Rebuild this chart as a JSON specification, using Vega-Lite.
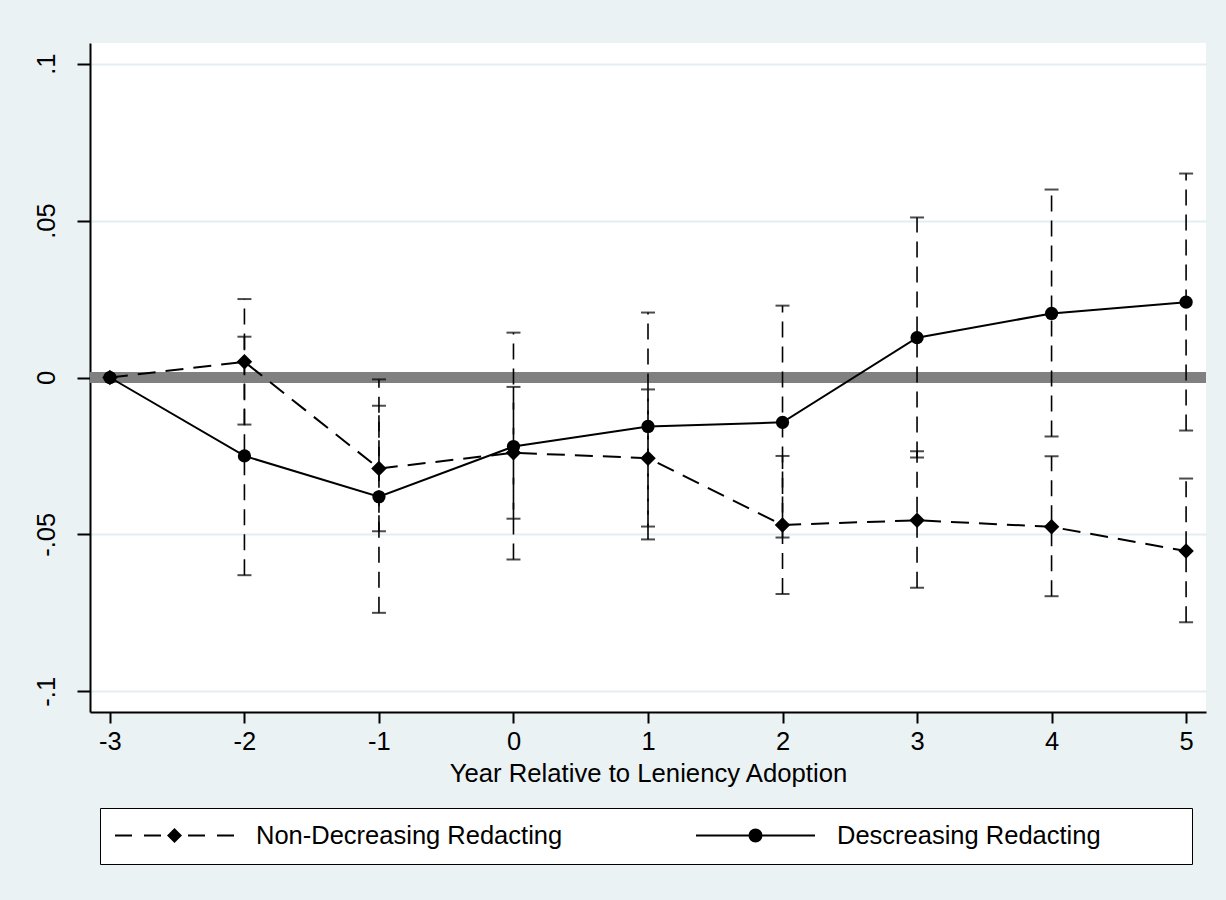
{
  "$schema": "https://vega.github.io/schema/vega-lite/v6.json",
  "width": 1116,
  "height": 669,
  "autosize": {"type": "none"},
  "padding": {"left": 90, "top": 43, "right": 20, "bottom": 188},
  "background": "#EAF2F3",
  "config": {
    "font": "Liberation Sans",
    "view": {"fill": "white", "stroke": null}
  },
  "data": {
    "values": [
      {"year": -3, "series": "Non-Decreasing Redacting", "coef": 0, "lo": null, "hi": null},
      {"year": -2, "series": "Non-Decreasing Redacting", "coef": 0.005, "lo": -0.015, "hi": 0.025},
      {"year": -1, "series": "Non-Decreasing Redacting", "coef": -0.029, "lo": -0.049, "hi": -0.009},
      {"year": 0, "series": "Non-Decreasing Redacting", "coef": -0.024, "lo": -0.045, "hi": -0.003},
      {"year": 1, "series": "Non-Decreasing Redacting", "coef": -0.0257, "lo": -0.0475, "hi": -0.0038},
      {"year": 2, "series": "Non-Decreasing Redacting", "coef": -0.047, "lo": -0.069, "hi": -0.025},
      {"year": 3, "series": "Non-Decreasing Redacting", "coef": -0.0455, "lo": -0.067, "hi": -0.0235},
      {"year": 4, "series": "Non-Decreasing Redacting", "coef": -0.0476, "lo": -0.0697, "hi": -0.0251},
      {"year": 5, "series": "Non-Decreasing Redacting", "coef": -0.0553, "lo": -0.078, "hi": -0.0322},
      {"year": -3, "series": "Descreasing Redacting", "coef": 0, "lo": null, "hi": null},
      {"year": -2, "series": "Descreasing Redacting", "coef": -0.025, "lo": -0.063, "hi": 0.013},
      {"year": -1, "series": "Descreasing Redacting", "coef": -0.038, "lo": -0.075, "hi": -0.0006},
      {"year": 0, "series": "Descreasing Redacting", "coef": -0.022, "lo": -0.058, "hi": 0.0143},
      {"year": 1, "series": "Descreasing Redacting", "coef": -0.0156, "lo": -0.0516, "hi": 0.0207},
      {"year": 2, "series": "Descreasing Redacting", "coef": -0.0143, "lo": -0.051, "hi": 0.0229},
      {"year": 3, "series": "Descreasing Redacting", "coef": 0.0127, "lo": -0.0255, "hi": 0.051},
      {"year": 4, "series": "Descreasing Redacting", "coef": 0.0204, "lo": -0.0188, "hi": 0.0599},
      {"year": 5, "series": "Descreasing Redacting", "coef": 0.024, "lo": -0.0169, "hi": 0.065}
    ]
  },
  "encoding": {
    "x": {
      "field": "year",
      "type": "quantitative",
      "scale": {"domain": [-3.148, 5.148], "nice": false, "zero": false},
      "axis": {
        "values": [-3, -2, -1, 0, 1, 2, 3, 4, 5],
        "title": "Year Relative to Leniency Adoption",
        "grid": false,
        "domainColor": "black",
        "domainWidth": 2,
        "tickColor": "black",
        "tickWidth": 2,
        "tickSize": 11,
        "labelFontSize": 25.5,
        "labelColor": "black",
        "labelPadding": 6,
        "labelFlush": false,
        "labelOverlap": false,
        "labelExpr": "replace(datum.label, '\u2212', '-')",
        "titleFontSize": 25.7,
        "titleFontWeight": "normal",
        "titleColor": "black",
        "titlePadding": 7
      }
    }
  },
  "layer": [
    {
      "mark": {"type": "rule", "color": "#808080", "strokeWidth": 11},
      "encoding": {
        "x": null,
        "y": {
          "datum": 0,
          "type": "quantitative",
          "scale": {"domain": [-0.1066, 0.1066], "nice": false, "zero": false},
          "axis": {
            "values": [-0.1, -0.05, 0, 0.05, 0.1],
            "title": null,
            "grid": true,
            "gridColor": "#E4EEF1",
            "gridWidth": 2,
            "domainColor": "black",
            "domainWidth": 2,
            "tickColor": "black",
            "tickWidth": 2,
            "tickSize": 13,
            "labelFontSize": 25.5,
            "labelColor": "black",
            "labelAngle": -90,
            "labelAlign": "center",
            "labelBaseline": "bottom",
            "labelPadding": 18,
            "labelFlush": false,
            "labelOverlap": false,
            "labelExpr": "datum.value == 0 ? '0' : replace(replace(format(datum.value, ''), '\u2212', '-'), '0.', '.')"
          }
        }
      }
    },
    {
      "transform": [{"filter": "isValid(datum.lo)"}],
      "mark": {"type": "rule", "color": "black", "strokeWidth": 1.6, "strokeDash": [16, 9]},
      "encoding": {
        "y": {"field": "lo", "type": "quantitative"},
        "y2": {"field": "hi"}
      }
    },
    {
      "transform": [{"filter": "isValid(datum.lo)"}],
      "mark": {"type": "tick", "orient": "horizontal", "color": "black", "size": 14, "thickness": 2},
      "encoding": {"y": {"field": "lo", "type": "quantitative"}}
    },
    {
      "transform": [{"filter": "isValid(datum.hi)"}],
      "mark": {"type": "tick", "orient": "horizontal", "color": "black", "size": 14, "thickness": 2},
      "encoding": {"y": {"field": "hi", "type": "quantitative"}}
    },
    {
      "transform": [{"filter": "datum.series == 'Non-Decreasing Redacting'"}],
      "mark": {"type": "line", "color": "black", "strokeWidth": 2, "strokeDash": [18, 10]},
      "encoding": {"y": {"field": "coef", "type": "quantitative"}}
    },
    {
      "transform": [{"filter": "datum.series == 'Descreasing Redacting'"}],
      "mark": {"type": "line", "color": "black", "strokeWidth": 2},
      "encoding": {"y": {"field": "coef", "type": "quantitative"}}
    },
    {
      "transform": [{"filter": "datum.series == 'Non-Decreasing Redacting'"}],
      "mark": {"type": "point", "shape": "diamond", "filled": true, "color": "black", "opacity": 1, "size": 240},
      "encoding": {"y": {"field": "coef", "type": "quantitative"}}
    },
    {
      "transform": [{"filter": "datum.series == 'Descreasing Redacting'"}],
      "mark": {"type": "point", "shape": "circle", "filled": true, "color": "black", "opacity": 1, "size": 175},
      "encoding": {"y": {"field": "coef", "type": "quantitative"}}
    },
    {
      "mark": {"type": "point", "filled": true, "color": "black", "opacity": 0},
      "encoding": {
        "y": {"field": "coef", "type": "quantitative"},
        "shape": {
          "field": "series",
          "type": "nominal",
          "scale": {
            "domain": ["Non-Decreasing Redacting", "Descreasing Redacting"],
            "range": [
              "M-1,-0.017H-0.714V0.017H-1Z M-0.513,-0.017H-0.227V0.017H-0.513Z M-0.126,0L0,-0.126L0.126,0L0,0.126Z M0.227,-0.017H0.513V0.017H0.227Z M0.714,-0.017H1V0.017H0.714Z",
              "M-1,-0.017H1V0.017H-1Z M0.118,0L0.109,0.045L0.083,0.083L0.045,0.109L0,0.118L-0.045,0.109L-0.083,0.083L-0.109,0.045L-0.118,0L-0.109,-0.045L-0.083,-0.083L-0.045,-0.109L0,-0.118L0.045,-0.109L0.083,-0.083L0.109,-0.045Z"
            ]
          },
          "legend": {
            "title": null,
            "orient": "none",
            "legendX": 10,
            "legendY": 765,
            "direction": "horizontal",
            "fillColor": "white",
            "strokeColor": "black",
            "padding": 15,
            "symbolSize": 14161,
            "symbolFillColor": "black",
            "symbolStrokeColor": "black",
            "symbolStrokeWidth": 0,
            "symbolOpacity": 1,
            "clipHeight": 25,
            "labelFontSize": 25.5,
            "labelColor": "black",
            "labelOffset": 22,
            "labelLimit": 800,
            "columnPadding": 133,
            "labelExpr": "datum.label == 'Descreasing Redacting' ? datum.label + '\u2800\u2800\u2800\u2800' : datum.label"
          }
        }
      }
    }
  ]
}
